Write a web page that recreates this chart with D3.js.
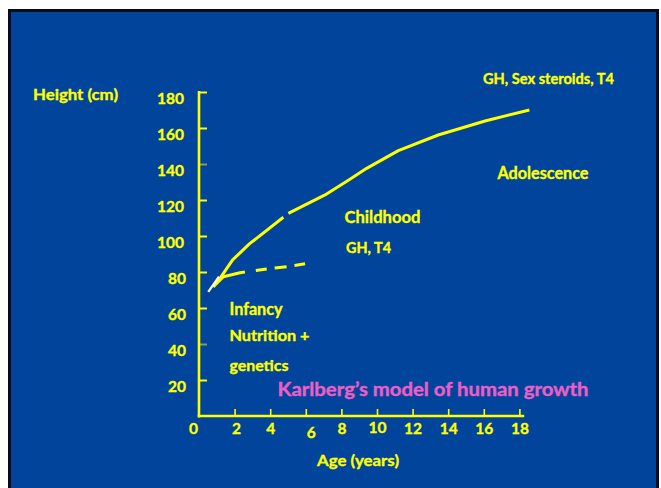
<!DOCTYPE html>
<html>
<head>
<meta charset="utf-8">
<script src="https://cdn.jsdelivr.net/npm/d3@7"></script>
<style>
  html, body { margin: 0; padding: 0; background: #ffffff; }
  svg { display: block; }
  text { font-family: Lato, "Open Sans", sans-serif; font-weight: bold; }
</style>
</head>
<body>
<svg id="chart" width="661" height="488"></svg>
<script>
// ---------------- data ----------------
const yTickValues = [20, 40, 60, 80, 100, 120, 140, 160, 180];
const xTickValues = [0, 2, 4, 6, 8, 10, 12, 14, 16, 18];

// main growth curve (solid), drawn in two pieces with a small break
const mainEarlyAge    = [0.8, 1.18, 1.89, 2.83, 4.74];
const mainEarlyHeight = [71.8, 76.5, 86.7, 95.6, 110.4];
const mainLateAge     = [5.02, 7.08, 8.48, 9.42, 11.2, 13.44, 16.07, 18.56];
const mainLateHeight  = [112.6, 122.8, 131.5, 137.6, 147.4, 156.1, 163.9, 170.0];

// infancy curve: solid part then dashed extrapolation
const infancyAge        = [0.8, 1.37, 2.3, 2.58];
const infancyHeight     = [71.8, 77.4, 79.6, 80.0];
const infancyDashAge    = [2.58, 3.8, 4.93, 5.96];
const infancyDashHeight = [80.0, 81.7, 82.9, 84.6];

// short white segment at the start
const whiteAge    = [0.52, 1.12];
const whiteHeight = [69.0, 77.4];

// faint navy strokes
const faintAgeA = [14.9, 16.07, 17.5];
const faintHeightA = [175, 181, 185];
const faintAgeB = [12.3, 12.87];
const faintHeightB = [153.3, 158.3];
const faintAgeC = [0.52, 0.34];
const faintHeightC = [69.0, 64.4];

const axisTitleY = "Height (cm)";
const axisTitleX = "Age (years)";
const chartTitle = "Karlberg\u2019s model of human growth";
const annotations = ["GH, Sex steroids, T4", "Adolescence", "Childhood", "GH, T4", "Infancy", "Nutrition +", "genetics"];

// ---------------- layout ----------------
const YELLOW = "#FFFF00";
const BLUE = "#01449B";
const PINK = "#EE5EC8";

const svg = d3.select("#chart");

// background panel with dark border
svg.append("rect").attr("x", 8).attr("y", 9).attr("width", 651).attr("height", 490).attr("fill", "#050c1e");
svg.append("rect").attr("x", 11).attr("y", 12).attr("width", 645).attr("height", 490).attr("fill", BLUE);

const x = d3.scaleLinear().domain([0, 18]).range([199, 519.4]);
const y = d3.scaleLinear().domain([0, 180]).range([416, 92]);

// y axis
const yAxis = d3.axisLeft(y).tickValues(yTickValues).tickSize(-8).tickPadding(14);
const gy = svg.append("g").attr("transform", `translate(${x(0)},0)`).call(yAxis);
gy.select(".domain").remove();
gy.selectAll(".tick line")
  .attr("stroke", d => (d === 140 || d === 40) ? "#8f9a55" : YELLOW)
  .attr("stroke-width", 2);
gy.selectAll(".tick text")
  .attr("fill", YELLOW)
  .attr("stroke", YELLOW)
  .attr("stroke-width", 0.35)
  .attr("font-size", 15.5)
  .attr("font-family", "Lato")
  .attr("font-weight", "bold")
  .attr("dy", null)
  .attr("dominant-baseline", "central")
  .attr("x", d => d <= 80 ? -13 : -15)
  .attr("y", 5.5);

// x axis
const xAxis = d3.axisBottom(x).tickValues(xTickValues).tickSize(-7).tickPadding(7);
const gx = svg.append("g").attr("transform", `translate(0,${y(0)})`).call(xAxis);
gx.select(".domain").remove();
gx.selectAll(".tick line")
  .attr("stroke", YELLOW)
  .attr("stroke-width", 1.6)
  .attr("display", d => d === 0 ? "none" : null);
gx.selectAll(".tick text")
  .attr("fill", YELLOW)
  .attr("stroke", YELLOW)
  .attr("stroke-width", 0.35)
  .attr("font-size", 15.5)
  .attr("font-family", "Lato")
  .attr("font-weight", "bold")
  .attr("dx", d => d === 0 ? -6 : (d === 6 ? 5 : (d === 2 ? 1.5 : 0)))
  .attr("y", d => d === 6 ? 10.5 : (d === 10 ? 5.5 : 6.5));

// axis lines
svg.append("line").attr("x1", x(0)).attr("x2", x(0)).attr("y1", y(180) - 1).attr("y2", y(0) + 1.5)
  .attr("stroke", YELLOW).attr("stroke-width", 2.6);
svg.append("line").attr("x1", x(0) - 1.3).attr("x2", x(18.27)).attr("y1", y(0)).attr("y2", y(0))
  .attr("stroke", YELLOW).attr("stroke-width", 2.6);

// curves
const lineGen = d3.line().x(d => x(d[0])).y(d => y(d[1]));
const zip = (a, b) => a.map((v, i) => [v, b[i]]);

function drawLine(ages, heights, color, width, dash) {
  const p = svg.append("path")
    .attr("d", lineGen(zip(ages, heights)))
    .attr("fill", "none")
    .attr("stroke", color)
    .attr("stroke-width", width)
    .attr("stroke-linejoin", "round");
  if (dash) p.attr("stroke-dasharray", dash);
  return p;
}

drawLine(faintAgeA, faintHeightA, "#1c3783", 1);
drawLine(faintAgeB, faintHeightB, "#1c3783", 1);
drawLine(faintAgeC, faintHeightC, "#1c3783", 1.2);

drawLine(infancyAge, infancyHeight, YELLOW, 3);
drawLine(infancyDashAge, infancyDashHeight, YELLOW, 3, "0 11 11 8 12 8 11 60");
drawLine(mainEarlyAge, mainEarlyHeight, YELLOW, 3);
drawLine(mainLateAge, mainLateHeight, YELLOW, 3);
drawLine(whiteAge, whiteHeight, "#ffffff", 2.2);

// text helper: left x, baseline y, font size, target width
function label(str, px, py, size, width, color) {
  svg.append("text")
    .attr("x", px).attr("y", py)
    .attr("font-size", size)
    .attr("fill", color || YELLOW)
    .attr("stroke", color || YELLOW)
    .attr("stroke-width", 0.35)
    .attr("textLength", width)
    .attr("lengthAdjust", "spacingAndGlyphs")
    .text(str);
}

const annotationLayout = [
  [483, 83.5, 14.5, 131],
  [497.5, 178.5, 16.5, 91],
  [344.5, 222.8, 17, 76],
  [346, 252.5, 15, 45],
  [229.5, 315.2, 16.5, 53],
  [229.5, 341.2, 16, 80],
  [229.5, 370.5, 16, 59]
];
annotations.forEach((t, i) => {
  const [px, py, s, w] = annotationLayout[i];
  label(t, px, py, s, w);
});

label(axisTitleY, 33, 99.8, 15.5, 85);
label(axisTitleX, 317, 465.8, 15.5, 82);
label(chartTitle, 277.5, 395.8, 19, 311, PINK);
</script>
</body>
</html>
